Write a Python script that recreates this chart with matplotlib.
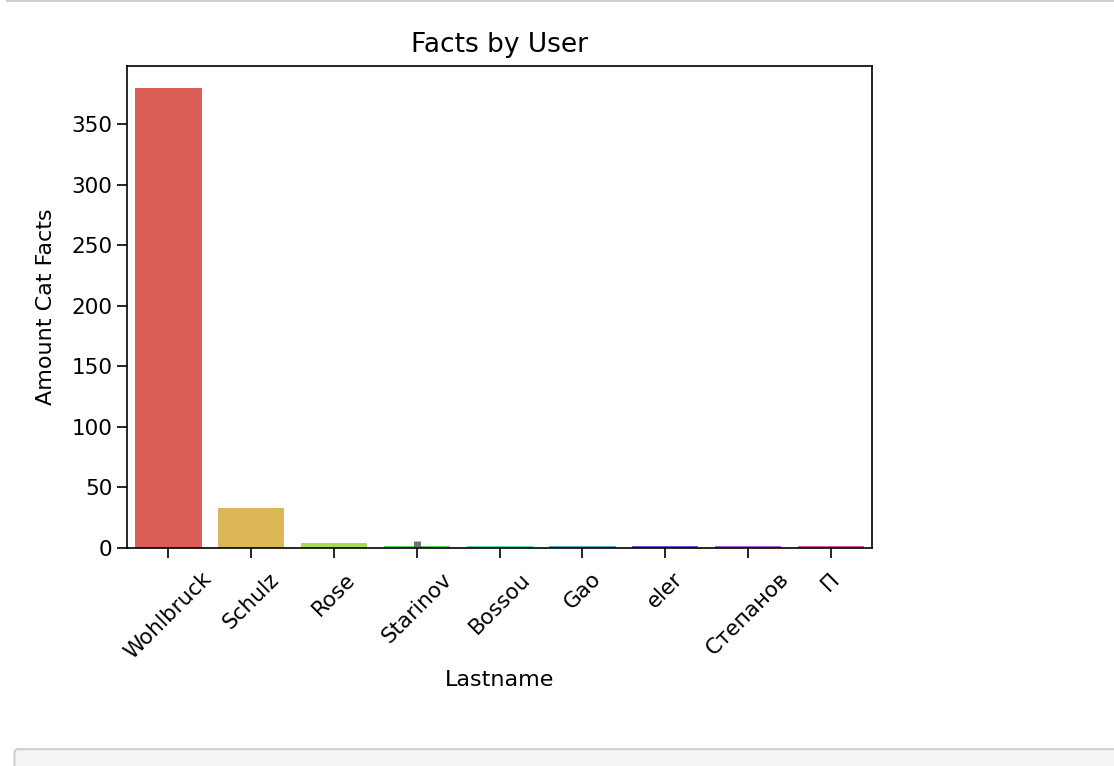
import matplotlib.pyplot as plt
import seaborn as sns
from matplotlib.patches import Rectangle, FancyBboxPatch

# data
lastnames = ['Wohlbruck', 'Schulz', 'Rose', 'Starinov', 'Bossou', 'Gao', 'eler', 'Степанов', 'П']
fact_counts = [380, 33, 4, 2, 2, 2, 2, 2, 2]
# only Starinov shows a confidence interval
ci_names = ['Starinov']
ci_low = [1]
ci_high = [5.5]

plt.rcParams['font.family'] = ['DejaVu Sans']

fig = plt.figure(figsize=(11.14, 7.66), dpi=100)
ax = fig.add_axes([0.114, 0.2846, 0.669, 0.6292])

colors = sns.color_palette('hls', len(lastnames))
x = list(range(len(lastnames)))
ax.bar(x, fact_counts, width=0.8, color=colors)

for name, lo, hi in zip(ci_names, ci_low, ci_high):
    i = lastnames.index(name)
    ax.plot([i, i], [lo, hi], color='.45', lw=5, solid_capstyle='butt')

ax.set_xlim(-0.5, len(lastnames) - 0.5)
ax.set_ylim(0, 398)
ax.set_xticks(x)
ax.set_xticklabels(lastnames, rotation=45, ha='center')
ax.tick_params(labelsize=15.5, length=7, width=1.2)
ax.tick_params(axis='x', pad=8)
for s in ax.spines.values():
    s.set_linewidth(1.2)

ax.set_title('Facts by User', fontsize=19, pad=10)
ax.set_xlabel('Lastname', fontsize=16, labelpad=5)
ax.set_ylabel('Amount Cat Facts', fontsize=16, labelpad=11)

# notebook cell borders around the output
fig.add_artist(Rectangle((0.005, 0.997), 1.0, 0.003, transform=fig.transFigure,
                         facecolor='#cfcfcf', edgecolor='none'))
fig.add_artist(FancyBboxPatch((0.013, -0.02), 1.0, 0.042, transform=fig.transFigure,
                              boxstyle='round,pad=0,rounding_size=0.004',
                              facecolor='#f5f5f5', edgecolor='#cfcfcf', lw=1.5))

fig.savefig('out.png', dpi=100)
